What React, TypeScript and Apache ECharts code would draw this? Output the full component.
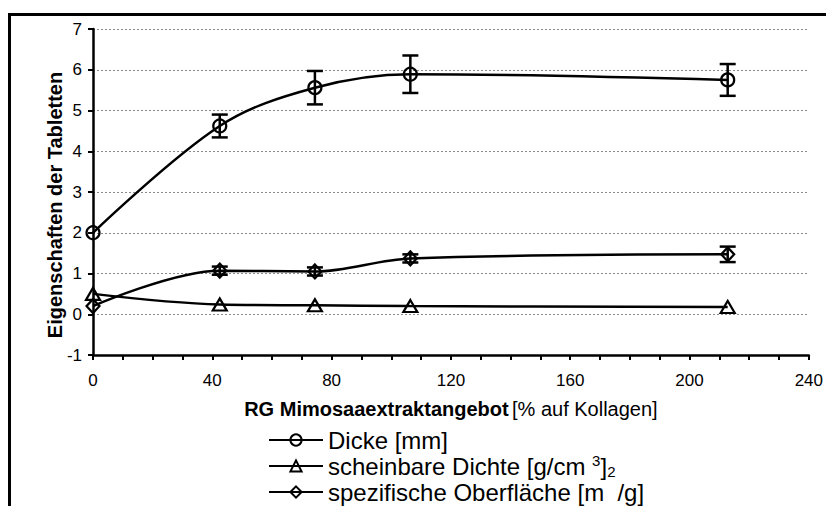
import React, { useEffect, useRef } from "react";
import * as echarts from "echarts";

const seriesNames = ["Dicke [mm]", "scheinbare Dichte [g/cm³]", "spezifische Oberfläche [m²/g]"];
const xValues = [0, 42.5, 74.4, 106.4, 212.8];
const dicke = [2.0, 4.62, 5.56, 5.89, 5.75];
const dickeErr = [0, 0.28, 0.41, 0.46, 0.39];
const dichte = [0.5, 0.24, 0.22, 0.2, 0.18];
const oberflaeche = [0.2, 1.07, 1.05, 1.37, 1.47];
const oberflaecheErr = [0, 0.1, 0.1, 0.1, 0.19];
const symbols = ["circle", "triangle", "diamond"];

const FONT = "'Liberation Sans', Arial, sans-serif";

function App() {
  const ref = useRef<HTMLDivElement>(null);
  useEffect(() => {
    if (!ref.current) return;
    const chart = echarts.init(ref.current, null, { renderer: "svg" });
    const seriesData = [dicke, dichte, oberflaeche];
    const errData = [dickeErr, null, oberflaecheErr];

    const lineSeries = seriesNames.map((name, i) => ({
      name,
      type: "line",
      smooth: 0.35,
      data: xValues.map((x, j) => [x, seriesData[i][j]]),
      symbol: symbols[i],
      symbolSize: i === 1 ? [14, 12] : i === 2 ? [13, 14] : 13,
      showAllSymbol: true,
      lineStyle: { color: "#000", width: 2.5 },
      itemStyle: { color: "rgba(255,255,255,0)", borderColor: "#000", borderWidth: 2.2 },
      z: 3,
    }));

    const errSeries: any[] = [];
    errData.forEach((errs, i) => {
      if (!errs) return;
      errSeries.push({
        type: "custom",
        name: seriesNames[i] + " err",
        data: xValues.map((x, j) => [x, seriesData[i][j], errs[j]]).filter((d) => d[2] > 0),
        z: 4,
        renderItem: (params: any, api: any) => {
          const x = api.value(0), y = api.value(1), e = api.value(2);
          const top = api.coord([x, y + e]);
          const bot = api.coord([x, y - e]);
          const w = 8;
          const st = { stroke: "#000", lineWidth: 2.5 };
          return {
            type: "group",
            children: [
              { type: "line", shape: { x1: top[0], y1: top[1], x2: bot[0], y2: bot[1] }, style: st },
              { type: "line", shape: { x1: top[0] - w, y1: top[1], x2: top[0] + w, y2: top[1] }, style: st },
              { type: "line", shape: { x1: bot[0] - w, y1: bot[1], x2: bot[0] + w, y2: bot[1] }, style: st },
            ],
          };
        },
      });
    });

    chart.setOption({
      animation: false,
      backgroundColor: "#fff",
      textStyle: { fontFamily: FONT },
      grid: { left: 93, right: 11, top: 29, bottom: 151, containLabel: false },
      xAxis: {
        type: "value",
        min: 0,
        max: 240,
        interval: 40,
        axisLine: { onZero: false, lineStyle: { color: "#000", width: 2.5 } },
        axisTick: { show: true, length: 5, lineStyle: { color: "#000", width: 2 } },
        minorTick: { show: true, splitNumber: 4, length: 5, lineStyle: { color: "#000", width: 2 } },
        splitLine: { show: false },
        axisLabel: { color: "#000", fontSize: 17, margin: 17, fontFamily: FONT },
        name: "{b|RG Mimosaaextraktangebot} {r|[% auf Kollagen]}",
        nameLocation: "middle",
        nameGap: 44,
        nameTextStyle: {
          rich: {
            b: { fontWeight: "bold", fontSize: 20, color: "#000", fontFamily: FONT },
            r: { fontSize: 20, color: "#000", fontFamily: FONT },
          },
        },
      },
      yAxis: {
        type: "value",
        min: -1,
        max: 7,
        interval: 1,
        axisLine: { show: true, onZero: false, lineStyle: { color: "#000", width: 2.5 } },
        axisTick: { show: true, length: 5, lineStyle: { color: "#000", width: 2 } },
        splitLine: { show: true, lineStyle: { color: "#8a8a8a", width: 1, type: [2, 2] } },
        axisLabel: { color: "#000", fontSize: 17, margin: 11, fontFamily: FONT },
      },
      legend: {
        data: seriesNames,
        orient: "vertical",
        left: 268,
        top: 427,
        height: 140,
        itemWidth: 54,
        itemHeight: 14,
        itemGap: 0,
        padding: 0,
        textStyle: {
          fontFamily: FONT,
          color: "#000",
          fontSize: 24,
          lineHeight: 26,
          rich: {
            n: { fontSize: 24, color: "#000", fontFamily: FONT, lineHeight: 26 },
            sup: { fontSize: 15, color: "#000", fontFamily: FONT, verticalAlign: "top", lineHeight: 26 },
            sub: { fontSize: 15, color: "#000", fontFamily: FONT, verticalAlign: "bottom", lineHeight: 26 },
          },
        },
        formatter: (name: string) => {
          if (name === seriesNames[0]) return "{n|Dicke [mm]}";
          if (name === seriesNames[1]) return "{n|scheinbare Dichte [g/cm }{sup|3}{n|]}{sub|2}";
          return "{n|spezifische Oberfläche [m  /g]}";
        },
      },
      graphic: [
        {
          type: "rect",
          shape: { x: 9.5, y: 14.5, width: 1000, height: 1000 },
          style: { fill: "none", stroke: "#000", lineWidth: 3 },
          z: 100,
        },
        {
          type: "text",
          x: 55,
          y: 205,
          rotation: Math.PI / 2,
          style: {
            text: "Eigenschaften der Tabletten",
            fontFamily: FONT,
            fontWeight: "bold",
            fontSize: 20,
            fill: "#000",
            textAlign: "center",
            textVerticalAlign: "middle",
          },
        },
      ],
      series: [...lineSeries, ...errSeries],
    });
    return () => chart.dispose();
  }, []);
  return <div ref={ref} style={{ position: "fixed", left: 0, top: 0, width: 826, height: 506 }} />;
}

export default App;
